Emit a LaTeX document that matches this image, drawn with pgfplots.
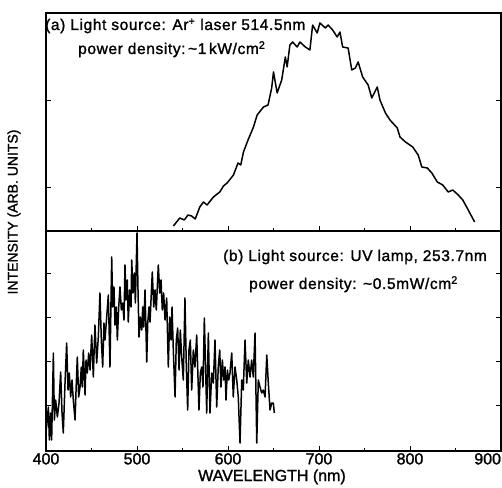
\documentclass[border=0pt]{standalone}
\usepackage{pgfplots}
\pgfplotsset{compat=1.18}
\usepackage{fontspec}
\setmainfont{Liberation Sans}[FakeBold=1.4]
\newfontfamily\panelfont{Liberation Sans}[LetterSpace=4, FakeBold=1.4]

\pgfplotstableread{
x y
540 5
547 13
552 11
556 16
560 15
564 12
569 24
573 29
577 26
584 34
591 39
595 45
599 48
606 56
611 68
614 66
617 79
622 91
628 104
632 116
639 124
644 126
648 143
650 159
654 138
659 151
663 174
665 164
668 186
671 189
676 184
679 189
685 184
690 181
693 206
698 198
701 208
707 203
710 206
715 201
720 194
723 199
726 184
732 183
736 161
740 163
743 169
748 154
754 146
758 133
764 144
767 131
773 118
778 111
786 103
789 94
795 89
803 84
809 76
813 64
819 63
824 58
830 49
836 46
842 39
847 41
853 36
858 31
864 21
871 9
}\topdata

\pgfplotstableread{
x y
400.0 1
400.5 38
400.7 24
402.6 44
403.7 11
405.1 38
406.2 11
408.1 98
409.2 31
410.6 51
412.5 34
414.3 48
416.1 79
417.6 38
419.0 18
420.9 68
422.7 108
424.2 61
425.6 78
427.1 54
428.6 71
430.0 51
431.9 31
433.3 68
434.4 94
435.9 54
437.4 64
438.8 84
439.9 64
441.0 101
442.9 56
444.0 91
445.4 78
446.9 98
448.4 81
450.2 116
452.0 74
453.8 126
455.7 88
457.5 114
459.3 158
460.8 111
462.3 84
463.7 128
464.8 111
466.7 134
468.5 156
470.3 84
472.2 194
473.3 144
474.7 164
475.8 126
477.3 144
478.4 111
479.9 144
481.3 164
482.8 141
484.3 148
485.7 131
486.8 186
487.9 151
489.3 171
490.4 129
492.0 161
493.4 144
494.2 191
495.6 158
497.1 178
498.2 148
500.0 218
501.1 161
502.2 114
503.7 134
505.2 121
506.3 144
507.4 124
508.8 161
510.7 89
511.8 128
513.2 144
514.3 129
516.8 179
518.4 144
519.8 161
521.2 141
523.4 186
525.0 158
526.4 171
527.8 141
529.3 158
530.8 131
532.6 153
534.4 84
535.9 134
537.4 111
538.5 144
539.9 101
541.8 54
543.2 111
544.7 123
546.2 81
547.6 121
549.1 94
550.9 71
552.7 153
554.2 84
555.7 41
557.1 101
558.6 111
560.1 61
561.9 101
563.7 84
565.6 116
568.1 41
569.6 78
571.1 84
572.5 64
574.0 133
575.5 78
576.6 38
578.4 118
580.2 38
582.1 78
583.9 68
585.7 111
587.6 44
589.3 84
590.9 101
592.3 64
593.8 91
595.3 71
596.7 84
597.8 51
599.3 81
600.8 71
602.2 78
604.1 98
605.8 54
607.7 84
609.6 71
611.3 54
613.2 8
615.1 71
616.8 61
618.7 111
620.6 68
622.3 91
624.2 74
626.0 91
627.8 74
629.7 118
631.6 8
633.3 71
635.2 64
637.0 58
638.8 61
640.7 54
642.6 96
644.3 68
646.2 41
648.0 48
649.8 48
650.9 38
}\botdata

\begin{document}
\begin{tikzpicture}[x=1pt,y=1pt]
\useasboundingbox (0,0) rectangle (502,487);
\pgfplotsset{
  panel/.style={
    scale only axis, width=455pt, anchor=south west,
    xmin=400, xmax=900,
    axis line style={line width=1.3pt},
    tick style={black, line width=0.8pt},
    tick align=inside,
    major tick length=5pt, minor tick length=3pt,
    xtick={400,500,...,900},
    minor xtick={450,550,...,850},
    xtick pos=lower, ytick pos=both,
    yticklabels={},
    /pgf/number format/assume math mode=true,
    ticklabel style={font=\fontsize{16}{18}\selectfont},
  }
}
\begin{axis}[panel, at={(46pt,256pt)}, height=218pt, ymin=0, ymax=218,
  ytick={44,131}, xticklabels={}]
\addplot[black, line width=1.5pt, line join=round] table[x=x,y=y]{\topdata};
\end{axis}
\begin{axis}[panel, at={(46pt,36pt)}, height=220pt, ymin=0, ymax=220,
  ytick={46,90,134,178},
  xticklabels={400,500,600,700,800,\llap{900}},
  xticklabel style={inner sep=0pt, yshift=-2pt}]
\addplot[black, line width=1.5pt, line join=round] table[x=x,y=y]{\botdata};
\end{axis}
\node[anchor=base west, inner sep=0pt, font=\panelfont\fontsize{15.5}{18}\selectfont] at (45,457) {(a) Light source: Ar\textsuperscript{+} laser 514.5nm};
\node[anchor=base west, inner sep=0pt, font=\panelfont\fontsize{15.5}{18}\selectfont] at (78,433) {power density:\,\textasciitilde1\,kW/cm\textsuperscript{2}};
\node[anchor=base west, inner sep=0pt, font=\panelfont\fontsize{15.5}{18}\selectfont] at (223,226) {(b) Light source: UV lamp, 253.7nm};
\node[anchor=base west, inner sep=0pt, font=\panelfont\fontsize{15.5}{18}\selectfont] at (249,198) {power density: \textasciitilde0.5mW/cm\textsuperscript{2}};
\node[anchor=base, inner sep=0pt, font=\fontsize{16}{18}\selectfont] at (272,6) {WAVELENGTH (nm)};
\node[rotate=90, inner sep=0pt, font=\fontsize{14}{16}\selectfont] at (14,275) {INTENSITY (ARB. UNITS)};
\end{tikzpicture}
\end{document}
